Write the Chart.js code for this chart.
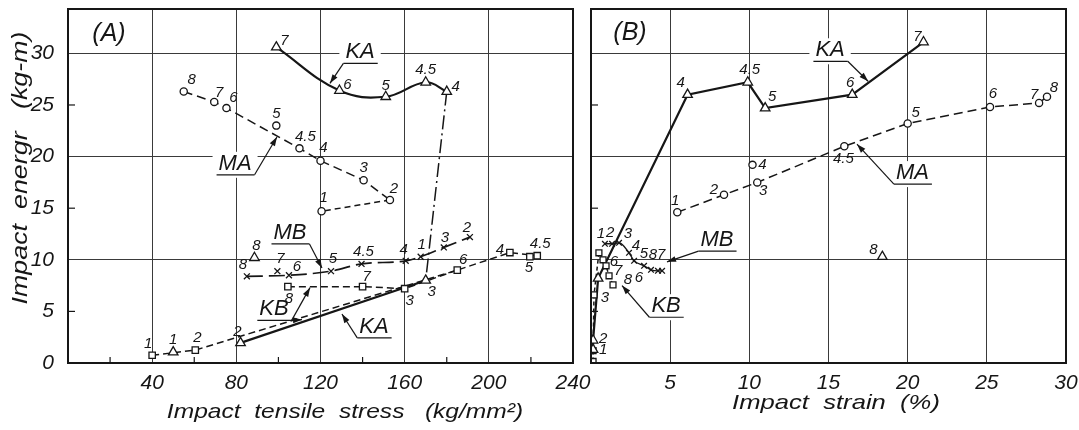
<!DOCTYPE html>
<html>
<head>
<meta charset="utf-8">
<script src="https://cdn.jsdelivr.net/npm/chart.js@4.4.1/dist/chart.umd.min.js"></script>
<style>
  html, body { margin: 0; padding: 0; background: #fff; }
  #wrap { position: relative; width: 1079px; height: 430px; overflow: hidden; background: #fff; }
  #boxA { position: absolute; left: 0; top: 0; width: 600px; height: 430px; }
  #boxB { position: absolute; left: 582px; top: 0; width: 497px; height: 430px; }
</style>
</head>
<body>
<div id="wrap">
  <div id="boxA"><canvas id="chartA" width="600" height="430"></canvas></div>
  <div id="boxB"><canvas id="chartB" width="497" height="430"></canvas></div>
</div>
<script>
// ---- (A) impact tensile stress (kg/mm2) vs impact energy (kg-m)
const kaA_lbl = ['7', '6', '5', '4.5', '4', '3', '2', '1', '8'];
const kaA_x = [99, 129, 151, 170, 180, 170, 82, 50, 88.6];
const kaA_y = [30.6, 26.4, 25.8, 27.2, 26.3, 8.0, 1.95, 1.05, 10.2];

const maA_lbl = ['8', '7', '6', '5', '4.5', '4', '3', '2', '1'];
const maA_x = [55, 69.5, 75.3, 99, 110, 120, 140.5, 153, 120.5];
const maA_y = [26.3, 25.3, 24.7, 23.0, 20.8, 19.6, 17.7, 15.8, 14.7];

const mbA_lbl = ['8', '7', '6', '5', '4.5', '4', '1', '3', '2'];
const mbA_x = [85, 99.5, 105, 125, 139.5, 160.5, 167.6, 178.6, 191];
const mbA_y = [8.4, 8.9, 8.5, 8.9, 9.6, 9.9, 10.3, 11.2, 12.2];

const kbA_lbl = ['1', '2', '3', '6', '4', '4.5', '5', '7', '8'];
const kbA_x = [40, 60.5, 160, 185, 210, 223, 219.5, 140, 104.5];
const kbA_y = [0.75, 1.25, 7.2, 9.0, 10.7, 10.4, 10.3, 7.4, 7.4];

// ---- (B) impact strain (%) vs impact energy (kg-m)
const kaB_lbl = ['1', '2', '', '4', '4.5', '5', '6', '7', '8'];
const kaB_x = [0.13, 0.13, 0.45, 6.1, 9.9, 11.0, 16.5, 21.0, 18.4];
const kaB_y = [1.3, 2.2, 8.2, 26.0, 27.2, 24.7, 26.0, 31.1, 10.3];

const maB_lbl = ['1', '2', '3', '4', '4.5', '5', '6', '7', '8'];
const maB_x = [5.45, 8.4, 10.5, 10.2, 16.0, 20.0, 25.2, 28.3, 28.8];
const maB_y = [14.6, 16.3, 17.5, 19.2, 21.0, 23.2, 24.8, 25.2, 25.8];

const mbB_lbl = ['1', '2', '3', '4', '', '5', '6', '8', '7'];
const mbB_x = [0.88, 1.33, 1.77, 2.40, 2.72, 3.35, 3.79, 4.23, 4.49];
const mbB_y = [11.55, 11.55, 11.65, 10.68, 9.90, 9.42, 9.03, 8.93, 8.93];

const kbB_lbl = ['', '', '3', '', '', '6', '7', '8'];
const kbB_x = [0.13, 0.13, 0.19, 0.5, 0.76, 0.95, 1.14, 1.39];
const kbB_y = [0.15, 1.2, 6.6, 10.68, 10.0, 9.42, 8.45, 7.57];

// tick labels
const xTicksA = [40, 80, 120, 160, 200, 240];
const xMinorA = [20, 60, 100, 140, 180, 220];
const xTicksB = [5, 10, 15, 20, 25, 30];
const yTicks = [0, 5, 10, 15, 20, 25, 30];
const yMinor = [5, 15, 25];

const INK = '#161616';
const FONT = "'Liberation Sans', 'DejaVu Sans', sans-serif";

function pick(xs, ys, idx) {
  return idx.map(i => ({ x: xs[i], y: ys[i] }));
}
function all(xs) { return xs.map((_, i) => i); }

function markers(xs, ys, style, r) {
  return {
    data: pick(xs, ys, all(xs)), showLine: false, order: 0,
    pointStyle: style, pointRadius: r, pointBorderWidth: 1.3,
    pointBorderColor: INK, pointBackgroundColor: '#fff'
  };
}
function path(xs, ys, idx, dash, w, tension, mono) {
  return {
    data: pick(xs, ys, idx), showLine: true, order: 1, pointRadius: 0,
    borderColor: INK, borderWidth: w, borderDash: dash,
    tension: tension || 0, cubicInterpolationMode: mono ? 'monotone' : 'default'
  };
}

// labels next to the points: [dx, dy] in px
const offA = {
  ka: [[8, -6], [8, -6], [0, -11], [0, -12], [9, -5], [6, 11], [-3, -11], [0, -12], [2, -12]],
  ma: [[8, -12], [5, -9], [7, -10], [0, -12], [6, -12], [3, -13], [0, -12], [4, -11], [2, -13]],
  mb: [[-4, -11], [3, -12], [8, -8], [2, -12], [2, -12], [-2, -11], [1, -12], [1, -10], [-3, -9]],
  kb: [[-4, -11], [2, -12], [5, 12], [6, -10], [-10, -3], [3, -12], [-1, 11], [4, -10], [1, 12]]
};
const offB = {
  ka: [[10, 0], [10, -1], [0, 0], [-7, -12], [2, -12], [7, -11], [-2, -12], [-6, -5], [-9, -7]],
  ma: [[-2, -11], [-10, -5], [6, 8], [10, 0], [-1, 13], [8, -11], [3, -13], [-5, -8], [7, -9]],
  mb: [[-4, -10], [-2, -11], [9, -9], [7, -7], [0, 0], [0, -12], [-12, 8], [-5, -16], [-1, -16]],
  kb: [[0, 0], [0, 0], [11, 3], [0, 0], [0, 0], [8, -4], [9, -5], [15, -5]]
};

const deco = {
  id: 'deco',
  beforeDatasetsDraw(chart, args, o) {
    const ctx = chart.ctx;
    ctx.save();
    ctx.fillStyle = '#fff';
    ctx.font = 'italic 22px ' + FONT;
    (o.notes || []).forEach(n => {
      const cx = chart.scales.x.getPixelForValue(n.x), cy = chart.scales.y.getPixelForValue(n.y);
      const w = ctx.measureText(n.text).width;
      ctx.fillRect(cx - w / 2 - 6, cy - 12, w + 12, 26);
    });
    ctx.restore();
  },
  afterDatasetsDraw(chart, args, o) {
    const ctx = chart.ctx;
    const xs = chart.scales.x, ys = chart.scales.y;
    ctx.save();
    ctx.strokeStyle = INK;
    ctx.fillStyle = INK;
    // annotations with underline and leader arrows
    ctx.font = 'italic 22px ' + FONT;
    ctx.textAlign = 'center';
    ctx.textBaseline = 'middle';
    (o.notes || []).forEach(n => {
      const cx = xs.getPixelForValue(n.x), cy = ys.getPixelForValue(n.y);
      const w = ctx.measureText(n.text).width;
      ctx.fillText(n.text, cx, cy);
      const uy = cy + 11, u0 = cx - w / 2 - 2, u1 = cx + w / 2 + 3;
      ctx.lineWidth = 1.2;
      ctx.beginPath(); ctx.moveTo(u0, uy); ctx.lineTo(u1, uy); ctx.stroke();
      const sx = n.from === 'l' ? u0 : u1;
      n.tips.forEach(t => {
        const tx = xs.getPixelForValue(t[0]), ty = ys.getPixelForValue(t[1]);
        ctx.beginPath(); ctx.moveTo(sx, uy); ctx.lineTo(tx, ty); ctx.stroke();
        const a = Math.atan2(ty - uy, tx - sx);
        ctx.beginPath();
        ctx.moveTo(tx, ty);
        ctx.lineTo(tx - 9 * Math.cos(a) + 3 * Math.sin(a), ty - 9 * Math.sin(a) - 3 * Math.cos(a));
        ctx.lineTo(tx - 9 * Math.cos(a) - 3 * Math.sin(a), ty - 9 * Math.sin(a) + 3 * Math.cos(a));
        ctx.closePath(); ctx.fill();
      });
    });
    // point numbers
    ctx.font = 'italic 15px ' + FONT;
    (o.labels || []).forEach(l => {
      const meta = chart.getDatasetMeta(l.ds);
      l.text.forEach((t, i) => {
        if (!t) return;
        const p = meta.data[i];
        ctx.fillText(t, p.x + l.off[i][0], p.y + l.off[i][1]);
      });
    });
    ctx.restore();
  },
  afterDraw(chart, args, o) {
    const ctx = chart.ctx;
    const a = chart.chartArea;
    const xs = chart.scales.x, ys = chart.scales.y;
    ctx.save();
    ctx.strokeStyle = INK;
    ctx.lineWidth = 2;
    ctx.strokeRect(a.left, a.top, a.right - a.left, a.bottom - a.top);
    ctx.lineWidth = 1.2;
    (o.minorX || []).forEach(v => {
      const px = xs.getPixelForValue(v);
      ctx.beginPath(); ctx.moveTo(px, a.bottom); ctx.lineTo(px, a.bottom - 6); ctx.stroke();
    });
    (o.minorY || []).forEach(v => {
      const py = ys.getPixelForValue(v);
      ctx.beginPath(); ctx.moveTo(a.left, py); ctx.lineTo(a.left + 7, py); ctx.stroke();
    });
    // axis titles and panel tag (lettering is drawn a little wide)
    ctx.fillStyle = INK;
    ctx.textAlign = 'center';
    ctx.textBaseline = 'middle';
    (o.titles || []).forEach(t => {
      ctx.save();
      ctx.font = 'italic ' + t.size + 'px ' + FONT;
      ctx.translate(t.x, t.y);
      ctx.rotate(t.rot || 0);
      ctx.scale(t.sx || 1, 1);
      ctx.fillText(t.text, 0, 0);
      ctx.restore();
    });
    ctx.restore();
  }
};

function gridColor(every) {
  return c => (c.tick && c.tick.value > 0 && c.tick.value % every === 0) ? '#3a3a3a' : 'rgba(0,0,0,0)';
}
function noPad(s) {
  s.paddingLeft = 0; s.paddingRight = 0; s.paddingTop = 0; s.paddingBottom = 0;
}

function makeChart(id, cfg) {
  return new Chart(document.getElementById(id), {
    type: 'scatter',
    data: { datasets: cfg.datasets },
    options: {
      responsive: false,
      animation: false,
      events: [],
      layout: { padding: cfg.pad },
      plugins: { legend: { display: false }, tooltip: { enabled: false }, deco: cfg.deco },
      scales: {
        x: {
          type: 'linear', min: cfg.xmin, max: cfg.xmax,
          afterBuildTicks: s => { s.ticks = cfg.xTicks.map(v => ({ value: v })); },
          afterFit: s => { s.height = 67; noPad(s); },
          grid: { color: gridColor(cfg.xGridEvery), lineWidth: 1, drawTicks: false },
          border: { display: false },
          ticks: { color: INK, padding: 8, maxRotation: 0, font: { family: FONT, size: 21, style: 'italic' } }
        },
        y: {
          type: 'linear', min: 0, max: 34.3,
          afterBuildTicks: s => { s.ticks = yTicks.map(v => ({ value: v })); },
          afterFit: s => { s.width = cfg.yWidth; noPad(s); },
          grid: { color: gridColor(10), lineWidth: 1, drawTicks: false },
          border: { display: false },
          ticks: { display: cfg.yLabels, color: INK, padding: 14, font: { family: FONT, size: 21, style: 'italic' } }
        }
      }
    },
    plugins: [deco]
  });
}

// panel A
makeChart('chartA', {
  pad: { left: 0, top: 9, right: 27, bottom: 0 },
  xmin: 0, xmax: 240, xTicks: xTicksA, xGridEvery: 40, yWidth: 68, yLabels: true,
  datasets: [
    markers(kaA_x, kaA_y, 'triangle', 5.5),
    markers(maA_x, maA_y, 'circle', 3.6),
    markers(mbA_x, mbA_y, 'crossRot', 4.2),
    markers(kbA_x, kbA_y, 'rect', 4.5),
    path(kaA_x, kaA_y, [0, 1, 2, 3, 4], [], 2.2, 0.4),
    path(kaA_x, kaA_y, [4, 5], [14, 4, 2, 4], 1.5),
    path(kaA_x, kaA_y, [5, 6], [], 2.2),
    path(maA_x, maA_y, [0, 1, 2, 4, 5, 6, 7], [9, 5], 1.5),
    path(maA_x, maA_y, [7, 8], [6, 4], 1.5),
    path(mbA_x, mbA_y, [0, 2, 3, 4, 5, 6, 7, 8], [16, 6], 1.7, 0.4, true),
    path(kbA_x, kbA_y, [0, 1, 3, 4, 5], [7, 4], 1.5),
    path(kbA_x, kbA_y, [8, 7, 2, 3], [7, 4], 1.5)
  ],
  deco: {
    minorX: xMinorA, minorY: yMinor,
    labels: [
      { ds: 0, text: kaA_lbl, off: offA.ka },
      { ds: 1, text: maA_lbl, off: offA.ma },
      { ds: 2, text: mbA_lbl, off: offA.mb },
      { ds: 3, text: kbA_lbl, off: offA.kb }
    ],
    notes: [
      { text: 'KA', x: 138.8, y: 30.1, from: 'l', tips: [[124.5, 27.1]] },
      { text: 'MA', x: 79.4, y: 19.3, from: 'r', tips: [[99.3, 21.9]] },
      { text: 'MB', x: 105.5, y: 12.6, from: 'r', tips: [[120.7, 9.2]] },
      { text: 'KB', x: 97.9, y: 5.2, from: 'r', tips: [[115, 7.3], [111.2, 4.2]] },
      { text: 'KA', x: 145.4, y: 3.5, from: 'l', tips: [[130.2, 4.75]] }
    ],
    titles: [
      { text: '(A)', x: 109, y: 34, size: 25 },
      { text: 'Impact  tensile  stress   (kg/mm²)', x: 345, y: 412, size: 21, sx: 1.17 },
      { text: 'Impact  energr   (kg-m)', x: 21, y: 168, size: 22, sx: 1.22, rot: -Math.PI / 2 }
    ]
  }
});

// panel B
makeChart('chartB', {
  pad: { left: 9, top: 9, right: 13, bottom: 0 },
  xmin: 0, xmax: 30, xTicks: xTicksB, xGridEvery: 5, yWidth: 0, yLabels: false,
  datasets: [
    markers(kaB_x, kaB_y, 'triangle', 5.5),
    markers(maB_x, maB_y, 'circle', 3.6),
    markers(mbB_x, mbB_y, 'crossRot', 4),
    markers(kbB_x, kbB_y, 'rect', 4.2),
    path(kaB_x, kaB_y, [0, 1, 2, 3, 4, 5, 6, 7], [], 2.2),
    path(maB_x, maB_y, [0, 1, 2, 4, 5, 6, 7, 8], [9, 5], 1.5),
    path(mbB_x, mbB_y, all(mbB_x), [], 1.4, 0.4, true),
    path(kbB_x, kbB_y, all(kbB_x), [4, 3], 1.5)
  ],
  deco: {
    minorY: yMinor,
    labels: [
      { ds: 0, text: kaB_lbl, off: offB.ka },
      { ds: 1, text: maB_lbl, off: offB.ma },
      { ds: 2, text: mbB_lbl, off: offB.mb },
      { ds: 3, text: kbB_lbl, off: offB.kb }
    ],
    notes: [
      { text: 'KA', x: 15.1, y: 30.3, from: 'r', tips: [[17.5, 27.3]] },
      { text: 'MA', x: 20.3, y: 18.4, from: 'l', tips: [[16.8, 21.2]] },
      { text: 'MB', x: 7.96, y: 11.9, from: 'l', tips: [[4.8, 9.8]] },
      { text: 'KB', x: 4.74, y: 5.5, from: 'l', tips: [[1.96, 7.5]] }
    ],
    titles: [
      { text: '(B)', x: 48, y: 33, size: 25 },
      { text: 'Impact  strain  (%)', x: 254, y: 403, size: 21, sx: 1.22 }
    ]
  }
});
</script>
</body>
</html>
